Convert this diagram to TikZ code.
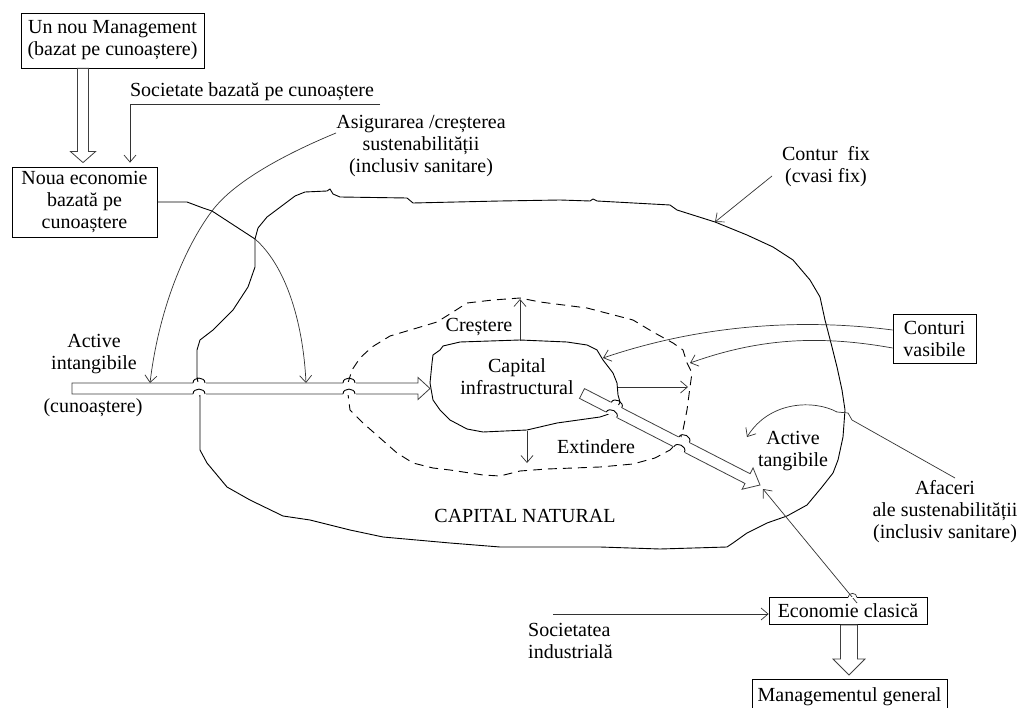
\documentclass[tikz,border=0pt]{standalone}
\usepackage{fontspec}
\setmainfont{Liberation Serif}
\usetikzlibrary{calc,arrows.meta}

% hollow block arrow: start, tip, shaft half-width, head half-width, head length
\newcommand\hollowarrow[5]{%
  \path ($(#2)!#5!(#1)$) coordinate (ha-base);
  \draw[harrow] ($(#1)!#3!90:(#2)$) -- ($(ha-base)!#3!90:(#2)$)
    -- ($(ha-base)!#4!90:(#2)$) -- (#2) -- ($(ha-base)!#4!-90:(#2)$)
    -- ($(ha-base)!#3!-90:(#2)$) -- ($(#1)!#3!-90:(#2)$) -- cycle;}

% small line hops where a contour passes under a block arrow
\newcommand\hopmark[2]{%
  \begin{scope}[shift={#1},rotate=#2]
    \fill[white] (-6.5,-6.3) rectangle (6.5,-4.7);
    \fill[white] (-6.5,4.7) rectangle (6.5,6.3);
    \draw[contour] (-6,-5.5) .. controls (-6,-12) and (6,-12) .. (6,-5.5);
    \draw[contour] (-6,5.5) .. controls (-6,-1) and (6,-1) .. (6,5.5);
  \end{scope}}

\tikzset{
  txt/.style={font=\fontsize{20}{22}\selectfont, align=center, inner sep=0pt},
  boxed/.style={txt, draw, line width=0.8pt},
  contour/.style={line width=0.9pt, black, line join=round},
  dashcontour/.style={contour, dash pattern=on 9pt off 6pt},
  link/.style={line width=0.7pt, black!80},
  arr/.style={link, -{Straight Barb[length=7pt,width=12pt]}},
  harrow/.style={line width=0.8pt, black!75, fill=white, line join=miter},
}

\begin{document}
\begin{tikzpicture}[x=1pt, y=-1pt]
\fill[white] (0,0) rectangle (1020,708);
\useasboundingbox (0,0) rectangle (1020,708);

% ---------- labels and boxes ----------
\node[boxed, minimum width=183pt, minimum height=55pt] (mgnew) at (112.5,40.5) {Un nou Management\\(bazat pe cunoaștere)};
\node[boxed, minimum width=145pt, minimum height=70pt] (neco) at (84.5,202) {Noua economie\\bazată pe\\cunoaștere};
\node[txt] (soc) at (252,92) {Societate bazată pe cunoaștere};
\node[txt] (asig) at (421,146) {Asigurarea /creșterea\\sustenabilității\\(inclusiv sanitare)};
\node[txt] (cfix) at (826,167) {Contur\ \ fix\\(cvasi fix)};
\node[boxed, minimum width=83pt, minimum height=49pt] (cvas) at (934.5,338.5) {Conturi\\vasibile};
\node[txt] (aint) at (94,354) {Active\\intangibile};
\node[txt] (cun) at (93,408) {(cunoaștere)};
\node[txt] (cres) at (479,327) {Creștere};
\node[txt] (capinf) at (517,377) {Capital\\infrastructural};
\node[txt] (ext) at (596,447) {Extindere};
\node[txt] (atg) at (793,451) {Active\\tangibile};
\node[txt] (capnat) at (525,516) {CAPITAL NATURAL};
\node[txt] (afac) at (945,512) {Afaceri\\ale sustenabilității\\(inclusiv sanitare)};
\node[boxed, minimum width=158pt, minimum height=27pt] (econ) at (848,611) {Economie clasică};
\node[txt, align=left, anchor=west] (socind) at (528,641) {Societatea\\industrială};
\node[boxed, minimum width=195pt, minimum height=34pt, anchor=north] (mgen) at (849.5,679) {Managementul general};

% ---------- named points ----------
\coordinate (J2) at (255,239);
\coordinate (xa) at (83,0);
\coordinate (xb) at (849,0);
\coordinate (a1s) at (mgnew.south -| xa);
\coordinate (a1e) at ($(neco.north -| xa)+(0,-4)$);
\coordinate (b1) at (econ.south -| xb);
\coordinate (b2) at ($(mgen.north -| xb)+(0,-4)$);
\coordinate (socR) at (380,104);
\coordinate (socL) at (130,104);
\coordinate (socD) at ($(socL |- neco.north)+(0,-4)$);
\coordinate (asgS) at (336,133);
\coordinate (asgM) at (212,211);
\coordinate (asgE) at (150,383);
\coordinate (j2E) at (306,383);
\coordinate (cfS) at (772,176);
\coordinate (cfE) at (715,222);
\coordinate (cvS1) at ($(cvas.west)+(0,-8.5)$);
\coordinate (cvS2) at ($(cvas.west)+(0,9.5)$);
\coordinate (cvE1) at (603,358);
\coordinate (cvE2) at (690,363);
\coordinate (inTop) at (520,341);
\coordinate (dTop) at (520,299);
\coordinate (inBot) at (527,431);
\coordinate (dBot) at (527,463);
\coordinate (inRt) at (618,387);
\coordinate (dRt) at (688,387);
\coordinate (afS) at (955,478);
\coordinate (afE) at (747,437);
\coordinate (ecS) at (857,603);
\coordinate (ecE) at (763,489);
\coordinate (siS) at (553,614);
\coordinate (ai1) at (72,388.5);
\coordinate (ai2) at (430,388.5);
\coordinate (d1) at (582,393.5);
\coordinate (d2) at (760,485);

% ---------- outer contour: natural capital ----------
\draw[contour] (J2) -- (258,228) -- (267,217) -- (283,205) -- (295,196) -- (305,192)
  -- (327,191) -- (330,189) -- (333,194) -- (340,197) -- (407,198) -- (413,203)
  -- (500,201) -- (560,200) -- (590,201) -- (593,199) -- (597,201) -- (670,205)
  -- (677,210) -- (715,222) -- (747,235) -- (773,247) -- (793,260) -- (810,280)
  -- (820,297) -- (825,320) -- (832,347) -- (837,367) -- (842,390) -- (845,410)
  -- (843,437) -- (838,460) -- (833,473) -- (822,487) -- (807,505) -- (787,516)
  -- (767,523) -- (747,533) -- (733,543) -- (727,547) -- (660,549) -- (600,547)
  -- (500,547) -- (450,543) -- (383,537) -- (350,530) -- (310,520) -- (283,516)
  -- (250,500) -- (227,487) -- (207,463) -- (200,450) -- (200,397) -- (199,388)
  -- (197,377) -- (197,350) -- (200,340) -- (213,330) -- (233,310) -- (248,287)
  -- (255,267) -- cycle;

% line from the new economy box to the contour
\draw[contour] (neco.east) -- (187,202) -- (203,208) -- (asgM) -- (J2);

% ---------- dashed contour: feasible outline ----------
\draw[dashcontour] (348,383) -- (352,370) -- (360,358) -- (372,347) -- (390,336)
  -- (417,328) -- (437,322) -- (453,312) -- (467,303) -- (493,300) -- (520,298)
  -- (540,302) -- (587,308) -- (633,320) -- (653,332) -- (673,343) -- (683,350)
  -- (687,363) -- (692,373) -- (690,387) -- (687,410) -- (683,430) -- (680,440)
  -- (670,450) -- (655,458) -- (633,464) -- (600,467) -- (547,469) -- (520,471)
  -- (500,476) -- (483,475) -- (450,470) -- (433,468) -- (413,463) -- (397,453)
  -- (380,438) -- (363,423) -- (350,410) -- (348,394) -- cycle;

% ---------- inner contour: infrastructure capital ----------
\draw[contour] (432,363) -- (433,355) -- (440,350) -- (443,346) -- (460,342)
  -- (520,340) -- (567,342) -- (587,345) -- (597,350) -- (603,360) -- (613,373)
  -- (617,383) -- (618,395) -- (620,402) -- (615,412) -- (600,417) -- (557,423)
  -- (527,430) -- (483,432) -- (467,429) -- (450,420) -- (440,410) -- (433,400)
  -- (430,383) -- cycle;

% ---------- thin connectors ----------
\draw[arr] (socR) -- (socL) -- (socD);
\draw[arr] (asgS) .. controls (290,152) and (235,180) .. (asgM)
  .. controls (190,240) and (160,300) .. (asgE);
\draw[arr] (J2) .. controls (285,265) and (303,320) .. (j2E);
\draw[arr] (cfS) -- (cfE);
\draw[arr] (cvS1) .. controls (800,318) and (700,325) .. (cvE1);
\draw[arr] (cvS2) .. controls (820,335) and (760,338) .. (cvE2);
\draw[arr] (inTop) -- (dTop);
\draw[arr] (inBot) -- (dBot);
\draw[arr] (inRt) -- (dRt);
\draw[arr] (afS) -- (852,420) -- (848,413) -- (837,412)
  .. controls (815,400) and (770,400) .. (afE);
\draw[arr] (ecS) -- (ecE);
\draw[arr] (siS) -- (siS -| econ.west);
\fill[white] (848,597) rectangle (857,598.2);
\draw[link] (848,597.6) .. controls (848,592) and (857,592) .. (857,597.6);

% ---------- block arrows ----------
\hollowarrow{a1s}{a1e}{5.5pt}{12.5pt}{11pt}
\hollowarrow{ai1}{ai2}{5.5pt}{11pt}{12pt}
\hollowarrow{d1}{d2}{5.5pt}{12pt}{14pt}
\hollowarrow{b1}{b2}{8.5pt}{16pt}{16pt}

\hopmark{(199,388.5)}{0}
\hopmark{(349,388.5)}{0}
\hopmark{(614,410)}{-27.2}
\hopmark{(681.6,444.7)}{-27.2}
\end{tikzpicture}
\end{document}
